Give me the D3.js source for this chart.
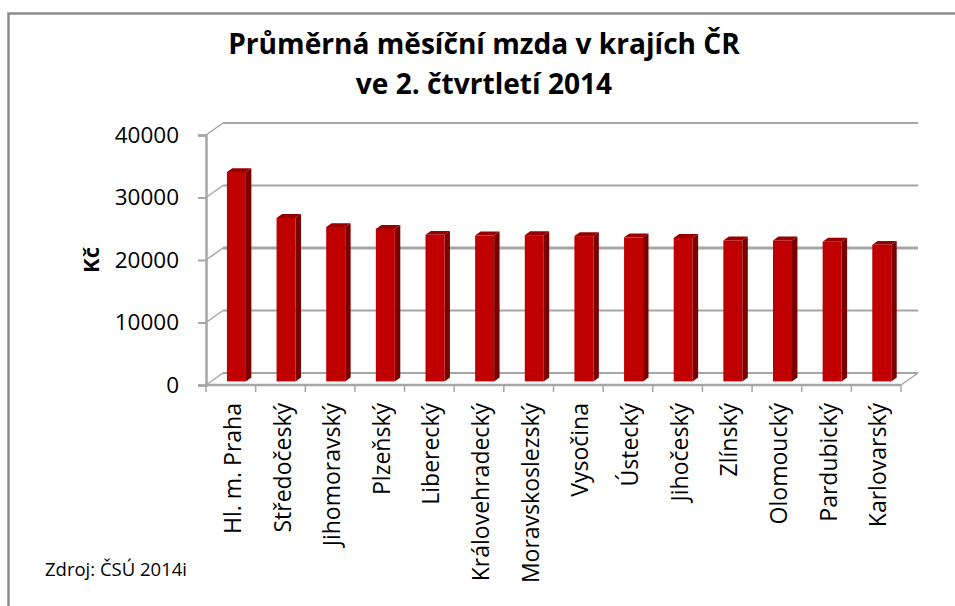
<!DOCTYPE html>
<html>
<head>
<meta charset="utf-8">
<script src="https://cdn.jsdelivr.net/npm/d3@7"></script>
<style>
  html, body { margin:0; padding:0; background:#fff; }
  svg { display:block; font-family: "Open Sans", Lato, sans-serif; }
</style>
</head>
<body>
<svg id="chart" width="955" height="606"></svg>
<script>
// ===== data =====
const regions = ["Hl. m. Praha","Středočeský","Jihomoravský","Plzeňský","Liberecký",
  "Královehradecký","Moravskoslezský","Vysočina","Ústecký","Jihočeský",
  "Zlínský","Olomoucký","Pardubický","Karlovarský"];
const wages = [33500, 26150, 24700, 24400, 23450, 23350, 23400,
  23250, 23050, 22950, 22550, 22550, 22350, 21850];
const yTicks = [0, 10000, 20000, 30000, 40000];
const titleLines = ["Průměrná měsíční mzda v krajích ČR", "ve 2. čtvrtletí 2014"];
const yLabel = "Kč";
const source = "Zdroj: ČSÚ 2014i";

// ===== layout =====
const svg = d3.select("#chart");
const FONT = "'Open Sans', Lato, sans-serif";
const GRID = "#a6a6a6";
const DX = 17, DY = -12;          // depth of the 3d box
const M = {left:206, right:901, top:135, bottom:385};

const x = d3.scaleBand().domain(regions).range([M.left, M.right]).padding(0);
const y = d3.scaleLinear().domain([0, 40000]).range([M.bottom, M.top]);

// outer frame (only top/left visible)
svg.append("rect")
  .attr("x", 8.5).attr("y", 13.5).attr("width", 960).attr("height", 620)
  .attr("fill", "none").attr("stroke", "#8c8c8c").attr("stroke-width", 2.5);

// title
const title = svg.append("g").selectAll("text").data(titleLines).join("text")
  .attr("x", 484).attr("y", (d,i) => 54 + i*40)
  .attr("text-anchor", "middle")
  .attr("font-size", "26px").attr("font-weight", "bold")
  .attr("font-family", FONT)
  .attr("fill", "#000")
  .text(d => d);
// fit first line to the width seen in the picture
const tw = title.node().getComputedTextLength();
if (tw > 0) title.attr("font-size", (26 * 512 / tw).toFixed(1) + "px");

// ===== walls / grid =====
const gridG = svg.append("g").attr("stroke", GRID).attr("fill", "none");
// back wall gridlines
gridG.selectAll("line.h").data(yTicks).join("line")
  .attr("x1", M.left + DX).attr("x2", M.right + DX)
  .attr("y1", d => y(d) + DY).attr("y2", d => y(d) + DY)
  .attr("stroke-width", d => d === 20000 ? 3 : 2);
// side wall connectors
gridG.selectAll("line.d").data(yTicks).join("line")
  .attr("x1", M.left).attr("x2", M.left + DX)
  .attr("y1", d => y(d)).attr("y2", d => y(d) + DY)
  .attr("stroke-width", 1.5);
// floor front edge & right edge
gridG.append("line")
  .attr("x1", M.left).attr("x2", M.right)
  .attr("y1", y(0)).attr("y2", y(0)).attr("stroke-width", 2.5);
gridG.append("line")
  .attr("x1", M.right).attr("x2", M.right + DX)
  .attr("y1", y(0)).attr("y2", y(0) + DY).attr("stroke-width", 1.5);

// ===== bars =====
const F0 = 0.3, F1 = 0.62;        // bar front/back depth fraction
const bw = 19;
const barsG = svg.append("g");
const bar = barsG.selectAll("g").data(regions).join("g");
const bx = d => x(d) + x.bandwidth()/2 - bw/2 + DX*F0 + 0.5;
const by0 = DY*F0;
const dd = {x: DX*(F1-F0), y: DY*(F1-F0)};

bar.each(function(d, i){
  const g = d3.select(this);
  const x0 = bx(d), x1 = x0 + bw;
  const yt = y(wages[i]) + by0, yb = y(0) + by0;
  // side
  g.append("path")
    .attr("d", `M${x1},${yt}L${x1+dd.x},${yt+dd.y}L${x1+dd.x},${yb+dd.y}L${x1},${yb}Z`)
    .attr("fill", "#7a0000");
  // top
  g.append("path")
    .attr("d", `M${x0},${yt}L${x0+dd.x},${yt+dd.y}L${x1+dd.x},${yt+dd.y}L${x1},${yt}Z`)
    .attr("fill", "#960000");
  // front
  g.append("rect")
    .attr("x", x0).attr("y", yt).attr("width", bw).attr("height", yb - yt)
    .attr("fill", "#c00000");
});

// ===== axes =====
const yAxis = svg.append("g")
  .attr("transform", `translate(${M.left},0)`)
  .call(d3.axisLeft(y).tickValues(yTicks).tickSize(8).tickPadding(19).tickFormat(d3.format("d")));
yAxis.select(".domain").attr("stroke", GRID).attr("stroke-width", 2.5);
yAxis.selectAll(".tick line").attr("stroke", GRID).attr("stroke-width", 2);
yAxis.selectAll("text").attr("font-size", "22.5px").attr("fill", "#000")
  .attr("font-family", FONT);

// category separators
svg.append("g").selectAll("line")
  .data(regions.map(r => x(r)).concat([M.right]))
  .join("line")
  .attr("x1", d => d).attr("x2", d => d)
  .attr("y1", y(0)).attr("y2", y(0) + 7)
  .attr("stroke", GRID).attr("stroke-width", 1.5);

const xAxis = svg.append("g")
  .attr("transform", `translate(0,${y(0)})`)
  .call(d3.axisBottom(x).tickSize(0));
xAxis.select(".domain").remove();
xAxis.selectAll(".tick text")
  .attr("font-size", "23px").attr("fill", "#000")
  .attr("font-family", FONT)
  .attr("text-anchor", "end")
  .attr("x", 0).attr("y", 0).attr("dy", "0.35em")
  .attr("transform", "translate(2,18) rotate(-90)");

// y label
svg.append("text")
  .attr("transform", "translate(99,260) rotate(-90)")
  .attr("text-anchor", "middle")
  .attr("font-family", FONT)
  .attr("font-size", "22px").attr("font-weight", "bold")
  .text(yLabel);

// source
svg.append("text")
  .attr("x", 45).attr("y", 576)
  .attr("font-family", FONT)
  .attr("font-size", "18.5px")
  .text(source);
</script>
</body>
</html>
